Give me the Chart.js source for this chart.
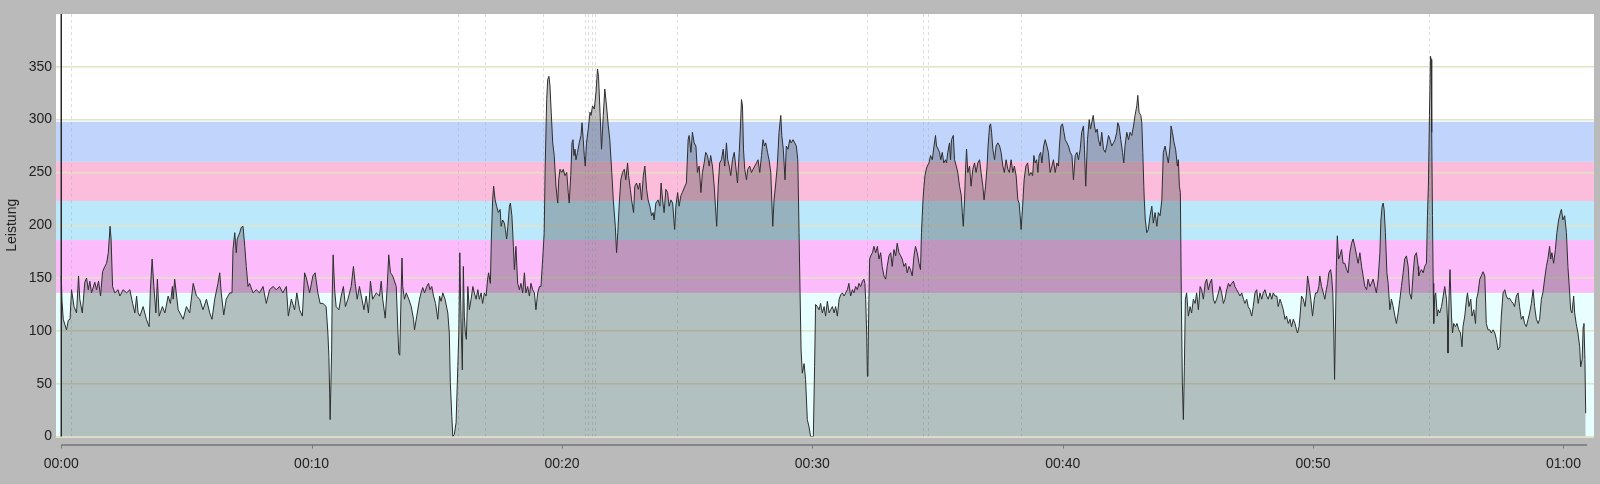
<!DOCTYPE html>
<html lang="de">
<head>
<meta charset="utf-8">
<title>Leistung</title>
<style>
  html, body { margin: 0; padding: 0; background: #bababa; }
  canvas { display: block; }
</style>
</head>
<body>
<canvas id="power-chart" width="1600" height="484"></canvas>
<script src="https://cdn.jsdelivr.net/npm/chart.js@4.4.1/dist/chart.umd.min.js"></script>
<script>
'use strict';

// RIDE DATA: ELAPSED TIME IN MINUTES AND POWER IN WATTS
const minutes = [
  0.00, 0.03, 0.08, 0.21, 0.28, 0.35, 0.41, 0.51, 0.61, 0.69,
  0.74, 0.84, 0.94, 1.01, 1.08, 1.14, 1.21, 1.34, 1.41, 1.49,
  1.57, 1.65, 1.74, 1.81, 1.88, 1.95, 1.99, 2.05, 2.14, 2.27,
  2.34, 2.47, 2.61, 2.74, 2.85, 2.94, 3.01, 3.07, 3.14, 3.27,
  3.40, 3.51, 3.56, 3.63, 3.70, 3.78, 3.84, 3.91, 4.04, 4.14,
  4.27, 4.36, 4.44, 4.47, 4.53, 4.67, 4.87, 5.00, 5.13, 5.27,
  5.40,
  5.53, 5.66, 5.80, 5.93, 6.02, 6.13, 6.26, 6.33, 6.39, 6.49,
  6.59, 6.73, 6.82, 6.86, 6.93, 6.99, 7.03, 7.13, 7.19, 7.26,
  7.33, 7.39, 7.46, 7.52, 7.66, 7.79, 7.92, 8.06, 8.19, 8.32,
  8.46, 8.59, 8.72, 8.85, 8.99, 9.07, 9.19, 9.32, 9.41, 9.52,
  9.63, 9.72, 9.79, 9.92, 10.05, 10.14, 10.25, 10.34, 10.45, 10.58,
  10.65, 10.69, 10.72, 10.74, 10.80, 10.82, 10.86, 10.92, 10.98, 11.09,
  11.18, 11.27, 11.35, 11.45, 11.58, 11.67, 11.74, 11.82, 11.91, 12.01,
  12.09, 12.18, 12.27, 12.35, 12.44, 12.58, 12.71, 12.78, 12.84, 12.94,
  13.02, 13.08, 13.15, 13.24, 13.38, 13.48, 13.52, 13.57, 13.61,
  13.64, 13.71, 13.78, 13.88, 13.98, 14.07, 14.11, 14.20, 14.31, 14.37,
  14.44, 14.51, 14.60, 14.67, 14.73, 14.80, 14.87, 14.95, 15.04, 15.11,
  15.17, 15.24, 15.33, 15.44, 15.50, 15.54, 15.60, 15.64, 15.70, 15.77,
  15.84, 15.88, 15.92, 15.94, 15.98, 16.02, 16.06, 16.10, 16.14, 16.18,
  16.24, 16.30, 16.37, 16.44, 16.50, 16.57, 16.64, 16.70, 16.77, 16.83,
  16.90, 16.97, 17.03, 17.07, 17.14, 17.18, 17.23, 17.27, 17.33, 17.39,
  17.46, 17.53, 17.57, 17.63, 17.70, 17.74, 17.79, 17.84, 17.90, 17.94,
  18.00, 18.06, 18.10, 18.16, 18.23, 18.30, 18.36, 18.43, 18.50, 18.56,
  18.63, 18.70, 18.76, 18.83, 18.90, 18.96, 19.03, 19.10, 19.16, 19.23,
  19.29, 19.33, 19.39, 19.43, 19.48, 19.52, 19.57, 19.63, 19.69, 19.76,
  19.83, 19.87, 19.92, 19.99, 20.05, 20.12, 20.19, 20.25, 20.29, 20.35,
  20.40, 20.44, 20.48, 20.52, 20.56, 20.62, 20.69, 20.76, 20.80, 20.85,
  20.89, 20.93, 20.98, 21.05, 21.12, 21.16, 21.22, 21.29, 21.36, 21.42,
  21.46, 21.52, 21.58, 21.65, 21.71, 21.78, 21.85, 21.91, 21.99, 22.05,
  22.13, 22.18, 22.23, 22.29,
  22.35, 22.42, 22.49, 22.55, 22.62, 22.66, 22.73, 22.78, 22.86, 22.91,
  22.98, 23.05, 23.11, 23.18, 23.25, 23.31, 23.38, 23.44, 23.51, 23.58,
  23.64, 23.68, 23.75, 23.84, 23.91, 23.96, 24.02, 24.08, 24.15, 24.22,
  24.28, 24.35, 24.42, 24.50, 24.55, 24.62, 24.68, 24.75, 24.81, 24.91,
  24.97, 25.04, 25.08, 25.15, 25.21, 25.28, 25.35, 25.41, 25.48, 25.55,
  25.61, 25.68, 25.74, 25.81, 25.88, 25.94, 26.01, 26.08, 26.13, 26.18,
  26.24, 26.30, 26.37, 26.44, 26.50, 26.57, 26.62, 26.68, 26.74, 26.81,
  26.88, 26.94, 27.01, 27.08, 27.13, 27.17, 27.21, 27.25, 27.30, 27.37,
  27.42, 27.50, 27.57, 27.63, 27.70, 27.77, 27.83, 27.90, 27.97, 28.03,
  28.09, 28.14, 28.21, 28.27, 28.34, 28.38, 28.42, 28.47, 28.54, 28.60,
  28.67, 28.74, 28.78, 28.84, 28.91, 28.96, 29.03, 29.10, 29.16, 29.23,
  29.30, 29.36, 29.42, 29.47, 29.51, 29.55, 29.60, 29.67, 29.73, 29.80,
  29.87, 29.93, 30.04, 30.09,
  30.13, 30.20, 30.27, 30.33, 30.40, 30.47, 30.53, 30.60, 30.67, 30.73,
  30.80, 30.87, 30.93, 31.00, 31.07, 31.13, 31.20, 31.27, 31.33, 31.40,
  31.46, 31.53, 31.60, 31.66, 31.73, 31.80, 31.86, 31.93, 32.00, 32.06,
  32.10, 32.13, 32.17, 32.20, 32.22, 32.26, 32.29, 32.33, 32.40, 32.46,
  32.53, 32.60, 32.66, 32.73, 32.79, 32.86, 32.93, 32.99, 33.06, 33.13,
  33.19, 33.26, 33.33, 33.39, 33.46, 33.53, 33.59, 33.66, 33.73, 33.79,
  33.86, 33.92, 33.99, 34.06, 34.12, 34.19, 34.26, 34.32, 34.36, 34.42,
  34.46, 34.50, 34.55, 34.59, 34.66, 34.72, 34.79, 34.86, 34.92, 34.96,
  35.03, 35.08, 35.13, 35.19, 35.25, 35.32, 35.36, 35.41, 35.48, 35.52,
  35.56, 35.63, 35.68, 35.75, 35.81, 35.88, 35.95, 35.99, 36.03, 36.08,
  36.12, 36.16, 36.21, 36.28, 36.34, 36.41, 36.48, 36.54, 36.61, 36.68,
  36.74, 36.81, 36.86, 36.92, 36.98, 37.02, 37.08, 37.12, 37.16, 37.21,
  37.28, 37.34, 37.41, 37.48, 37.54, 37.61, 37.67, 37.74, 37.81, 37.87,
  37.94, 38.01, 38.07, 38.14, 38.21,
  38.26, 38.30, 38.34, 38.40, 38.46, 38.53, 38.60, 38.66, 38.73, 38.80,
  38.85, 38.90, 38.96, 39.01, 39.06, 39.12, 39.17, 39.24, 39.30, 39.37,
  39.43, 39.50, 39.57, 39.63, 39.70, 39.77, 39.83, 39.87, 39.93, 39.99,
  40.05, 40.10, 40.17, 40.23, 40.30, 40.37, 40.43, 40.50, 40.57, 40.63,
  40.70, 40.76, 40.83, 40.87, 40.92, 40.99, 41.06, 41.11, 41.16, 41.22,
  41.27, 41.32, 41.38, 41.43, 41.50, 41.56, 41.63, 41.70, 41.76, 41.83,
  41.89, 41.96, 42.03, 42.09, 42.16, 42.20, 42.25, 42.32, 42.39, 42.44,
  42.49, 42.56, 42.63, 42.69, 42.76, 42.83, 42.89, 42.96, 43.00, 43.05,
  43.12, 43.16, 43.20, 43.24, 43.26, 43.30, 43.36, 43.42, 43.49, 43.56,
  43.62, 43.69, 43.76, 43.82, 43.89, 43.96, 44.02, 44.09, 44.16, 44.22,
  44.29, 44.33, 44.38, 44.45, 44.51, 44.58, 44.62, 44.66, 44.70, 44.74,
  44.78, 44.82, 44.86, 44.90, 44.95, 45.02, 45.09, 45.15, 45.22, 45.29,
  45.35, 45.42, 45.49, 45.55, 45.62, 45.69, 45.75, 45.82, 45.88, 45.95,
  46.02, 46.08, 46.15,
  46.22, 46.28, 46.35, 46.42, 46.48, 46.55, 46.62, 46.68, 46.75, 46.82,
  46.88, 46.95, 47.02, 47.08, 47.15, 47.22, 47.28, 47.35, 47.41, 47.48,
  47.55, 47.61, 47.68, 47.75, 47.81, 47.88, 47.95, 48.01, 48.08, 48.15,
  48.21, 48.28, 48.35, 48.41, 48.48, 48.55, 48.61, 48.68, 48.74, 48.81,
  48.88, 48.94, 49.01, 49.08, 49.14, 49.21, 49.28, 49.34, 49.38, 49.44,
  49.48, 49.54, 49.61, 49.68, 49.74, 49.78, 49.83, 49.91, 49.98, 50.05,
  50.10, 50.17, 50.23, 50.27, 50.34, 50.41, 50.47, 50.53, 50.58, 50.63,
  50.70, 50.74, 50.79, 50.83, 50.86, 50.89, 50.93, 50.97, 51.02, 51.07,
  51.14, 51.20, 51.27, 51.34, 51.40, 51.47, 51.54, 51.60, 51.67, 51.74,
  51.80, 51.87, 51.94, 52.00, 52.07, 52.14, 52.20, 52.27, 52.33, 52.40,
  52.47, 52.53, 52.60, 52.67, 52.71, 52.76, 52.80, 52.84, 52.89, 52.95,
  53.00, 53.07, 53.13, 53.20, 53.27, 53.33, 53.40, 53.47, 53.53, 53.60,
  53.66, 53.73, 53.80, 53.86, 53.93, 54.00, 54.06, 54.13, 54.20,
  54.22, 54.26, 54.33, 54.40, 54.46, 54.53, 54.57, 54.61, 54.65, 54.69,
  54.72, 54.74, 54.77, 54.80, 54.82, 54.86, 54.90, 54.96, 55.00, 55.06,
  55.13, 55.20, 55.26, 55.33, 55.37, 55.39, 55.43, 55.47, 55.53, 55.57,
  55.62, 55.69, 55.75, 55.82, 55.89, 55.95, 55.99, 56.06, 56.13, 56.17,
  56.23, 56.30, 56.35, 56.42, 56.49, 56.53, 56.59, 56.66, 56.72, 56.79,
  56.86, 56.92, 56.99, 57.06, 57.12, 57.19, 57.26, 57.32, 57.39, 57.46,
  57.52, 57.59, 57.66, 57.72, 57.79, 57.85, 57.92, 57.99, 58.05, 58.12,
  58.19, 58.25, 58.32, 58.39, 58.45, 58.52, 58.59, 58.65, 58.72, 58.79,
  58.85, 58.92, 58.99, 59.05, 59.12, 59.18, 59.25, 59.32, 59.38, 59.45,
  59.49, 59.54, 59.61, 59.68, 59.74, 59.81, 59.88, 59.92, 59.98, 60.05,
  60.12, 60.18, 60.25, 60.29, 60.34, 60.41, 60.45, 60.51, 60.58, 60.65,
  60.69, 60.75, 60.79, 60.82, 60.86, 60.89
];

const watts = [
  152, 128, 111, 101, 110, 111, 139, 123, 117, 152,
  130, 117, 146, 150, 139, 147, 136, 146, 139, 147,
  133, 156, 161, 164, 174, 199, 187, 142, 136, 139,
  133, 139, 136, 139, 126, 117, 133, 117, 114, 123,
  111, 104, 139, 168, 142, 117, 149, 114, 123, 117,
  133, 126, 142, 130, 149, 120, 111, 123, 117, 145,
  133,
  130, 120, 130, 117, 111, 130, 145, 155, 136, 115,
  130, 136, 136, 177, 193, 174, 187, 193, 198, 199,
  180, 161, 142, 145, 136, 139, 136, 142, 126, 139,
  142, 139, 142, 136, 142, 114, 130, 120, 136, 120,
  114, 155, 150, 136, 152, 155, 136, 126, 126, 123,
  98, 76, 41, 16, 82, 130, 172, 139, 123, 120,
  133, 142, 123, 130, 142, 161, 145, 130, 142, 130,
  120, 133, 117, 147, 130, 136, 133, 147, 130, 112,
  142, 172, 155, 152, 142, 79, 77, 130, 169,
  142, 130, 136, 130, 123, 111, 101, 114, 130, 136,
  141, 136, 142, 145, 139, 142, 133, 126, 111, 133,
  128, 136, 130, 117, 98, 51, 19, 0, 2, 13,
  66, 98, 174, 145, 98, 63, 161, 114, 98, 92,
  142, 120, 130, 142, 136, 130, 139, 130, 136, 126,
  136, 133, 149, 155, 145, 187, 224, 237, 224, 218,
  212, 215, 199, 205, 202, 196, 187, 199, 218, 221,
  209, 180, 158, 180, 145, 139, 145, 136, 155, 136,
  142, 133, 145, 139, 136, 120, 136, 142, 142, 168,
  193, 256, 319, 338, 341, 332, 307, 278, 266, 237,
  221, 243, 253, 250, 253, 247, 250, 231, 221, 247,
  278, 281, 266, 272, 262, 269, 278, 285, 297, 281,
  266, 256, 278, 291, 307, 304, 313, 310, 326, 348,
  341, 307, 272, 304, 329, 313, 294, 281, 250, 224,
  199, 174, 193, 221,
  243, 250, 253, 243, 259, 247, 234, 224, 212, 237,
  240, 234, 240, 224, 247, 256, 234, 224, 218, 209,
  212, 205, 221, 224, 218, 240, 224, 212, 234, 231,
  218, 224, 221, 196, 218, 231, 218, 228, 231, 237,
  240, 281, 285, 269, 288, 278, 275, 250, 256, 231,
  250, 259, 269, 266, 256, 266, 256, 237, 218, 199,
  237, 259, 262, 272, 256, 278, 262, 256, 247, 262,
  269, 256, 240, 269, 294, 319, 313, 272, 253, 243,
  253, 256, 250, 253, 256, 259, 262, 250, 266, 281,
  275, 278, 269, 262, 250, 224, 199, 224, 240, 256,
  288, 304, 285, 272, 243, 275, 272, 281, 278, 281,
  278, 275, 262, 193, 136, 82, 60, 69, 54, 16,
  9, 0, 0, 66,
  125, 123, 120, 126, 117, 123, 114, 128, 117, 120,
  123, 117, 123, 114, 130, 134, 136, 133, 136, 139,
  145, 133, 139, 136, 142, 139, 145, 142, 147, 149,
  145, 130, 98, 57, 66, 130, 168, 171, 174, 180,
  174, 180, 168, 174, 161, 152, 149, 161, 171, 174,
  161, 177, 171, 183, 174, 171, 168, 161, 164, 155,
  161, 158, 152, 171, 180, 174, 164, 158, 193, 224,
  237, 247, 253, 256, 259, 266, 262, 275, 285, 275,
  272, 269, 262, 269, 259, 262, 259, 269, 278, 262,
  281, 285, 262, 256, 250, 237, 228, 212, 199, 224,
  253, 272, 250, 256, 237, 253, 259, 250, 259, 262,
  250, 237, 224, 237, 256, 275, 294, 296, 288, 272,
  262, 275, 278, 275, 269, 256, 250, 262, 253, 250,
  262, 250, 256, 247, 224,
  221, 209, 196, 218, 243, 256, 259, 247, 250, 247,
  266, 259, 262, 250, 266, 269, 259, 275, 281, 275,
  269, 250, 256, 262, 250, 259, 256, 275, 294, 296,
  288, 281, 278, 275, 269, 266, 243, 266, 269, 262,
  272, 288, 294, 272, 237, 281, 300, 291, 297, 304,
  294, 288, 291, 281, 275, 288, 272, 269, 275, 285,
  281, 275, 278, 281, 288, 297, 294, 281, 269, 259,
  275, 288, 281, 288, 285, 294, 304, 313, 323, 307,
  304, 297, 269, 237, 224, 205, 193, 196, 209, 218,
  202, 212, 199, 212, 209, 224, 269, 275, 266, 259,
  275, 294, 288, 278, 272, 256, 262, 237, 231, 130,
  51, 16, 66, 130, 136, 114, 123, 117, 130, 126,
  136, 120, 142, 139, 130, 145, 149, 139, 145, 149,
  130, 126, 130,
  136, 142, 136, 126, 130, 139, 145, 142, 145, 147,
  142, 139, 136, 133, 136, 130, 126, 130, 123, 120,
  114, 123, 136, 139, 126, 136, 130, 136, 139, 133,
  130, 136, 130, 136, 133, 133, 123, 130, 126, 120,
  111, 114, 107, 111, 104, 111, 107, 101, 98, 104,
  114, 133, 130, 123, 136, 152, 145, 130, 114, 130,
  136, 136, 142, 152, 142, 136, 130, 139, 145, 155,
  158, 152, 136, 98, 54, 98, 161, 190, 168, 171,
  177, 164, 164, 158, 155, 174, 183, 187, 180, 171,
  164, 174, 161, 152, 142, 139, 149, 142, 145, 149,
  142, 136, 149, 174, 205, 218, 221, 215, 193, 155,
  145, 120, 130, 123, 114, 107, 117, 130, 142, 155,
  168, 171, 161, 136, 130, 155, 171, 174, 161,
  152, 155, 158, 155, 161, 164, 209, 240, 304, 360,
  357, 288, 209, 145, 107, 133, 136, 114, 120, 117,
  123, 133, 142, 130, 111, 79, 130, 158, 114, 98,
  107, 104, 107, 101, 98, 85, 104, 114, 130, 136,
  123, 130, 114, 120, 107, 130, 136, 149, 152, 156,
  152, 107, 101, 101, 98, 101, 98, 92, 82, 85,
  114, 136, 139, 133, 130, 131, 128, 126, 123, 133,
  136, 123, 111, 114, 107, 104, 111, 117, 126, 139,
  123, 111, 107, 111, 130, 136, 149, 161, 168, 180,
  168, 174, 164, 177, 193, 205, 212, 215, 205, 209,
  193, 161, 136, 120, 117, 133, 117, 107, 98, 85,
  66, 73, 104, 107, 73, 22
];

// POWER ZONES (WATTS) AND THEIR BAND COLOURS
const zoneBounds = [0, 136, 186, 223, 260, 298];
const zoneColors = ['#e8ffff', '#fcbcfc', '#bce8fc', '#fcbcdc', '#c0d4fc'];

// LAP MARKERS (MINUTES)
const lapMarks = [0.4, 15.85, 16.93, 19.24, 20.92, 21.05, 21.2, 21.33, 24.6, 32.19, 34.44, 34.62, 38.33, 54.63];

// AXIS TICKS
const xTicks = [0, 10, 20, 30, 40, 50, 60];
const yTicks = [0, 50, 100, 150, 200, 250, 300, 350];

const FONT = '"Liberation Sans", Arial, Helvetica, sans-serif';

function formatClock(value) {
  const h = Math.floor(value / 60);
  const m = Math.round(value % 60);
  return String(h).padStart(2, '0') + ':' + String(m).padStart(2, '0');
}

// PLUGIN FOR BACKGROUND, ZONE BANDS, LAP LINES AND THE TIME AXIS LINE
const zonePlugin = {
  id: 'zones',
  beforeDraw(chart) {
    const { ctx, chartArea: a, scales } = chart;
    const y = scales.y;
    ctx.save();
    ctx.fillStyle = '#bababa';
    ctx.fillRect(0, 0, chart.width, chart.height);
    ctx.fillStyle = '#ffffff';
    ctx.fillRect(a.left, a.top, a.right - a.left, a.bottom - a.top + 1);
    for (let i = 0; i < zoneColors.length; i++) {
      const top = y.getPixelForValue(zoneBounds[i + 1]);
      const bottom = y.getPixelForValue(zoneBounds[i]);
      ctx.fillStyle = zoneColors[i];
      ctx.fillRect(a.left, top, a.right - a.left, bottom - top);
    }
    ctx.restore();
  },
  beforeDatasetsDraw(chart) {
    const { ctx, chartArea: a, scales } = chart;
    ctx.save();
    ctx.strokeStyle = 'rgba(170,170,170,0.4)';
    ctx.lineWidth = 1;
    ctx.setLineDash([3, 3]);
    lapMarks.forEach((m) => {
      const px = Math.round(scales.x.getPixelForValue(m)) + 0.5;
      ctx.beginPath();
      ctx.moveTo(px, a.top);
      ctx.lineTo(px, a.bottom);
      ctx.stroke();
    });
    ctx.restore();
  },
  afterDatasetsDraw(chart) {
    const { ctx, chartArea: a, scales } = chart;
    const x = scales.x;
    ctx.save();
    // START LINE
    const x0 = x.getPixelForValue(0);
    ctx.strokeStyle = '#2a2a2a';
    ctx.lineWidth = 1.5;
    ctx.beginPath();
    ctx.moveTo(x0, a.top);
    ctx.lineTo(x0, a.bottom);
    ctx.stroke();
    // TIME AXIS LINE AND TICK MARKS
    const axisY = a.bottom + 8.5;
    ctx.strokeStyle = '#858585';
    ctx.lineWidth = 2;
    ctx.beginPath();
    ctx.moveTo(x0, axisY);
    ctx.lineTo(x.getPixelForValue(minutes[minutes.length - 1] + 0.05), axisY);
    ctx.stroke();
    ctx.lineWidth = 1;
    ctx.strokeStyle = '#777777';
    xTicks.forEach((t) => {
      const px = Math.round(x.getPixelForValue(t)) + 0.5;
      ctx.beginPath();
      ctx.moveTo(px, axisY);
      ctx.lineTo(px, axisY + 3.5);
      ctx.stroke();
    });
    ctx.restore();
  }
};

const points = minutes.map((m, i) => ({ x: m, y: watts[i] }));

const powerChart = new Chart(document.querySelector('#power-chart'), {
  type: 'line',
  data: {
    datasets: [
      {
        label: 'Leistung',
        data: points,
        borderColor: '#2e2e2e',
        borderWidth: 1,
        backgroundColor: 'rgba(90,90,90,0.38)',
        fill: 'origin',
        pointRadius: 0,
        tension: 0
      }
    ]
  },
  options: {
    responsive: false,
    animation: false,
    events: [],
    layout: { padding: { top: 14, right: 4, left: 0, bottom: 0 } },
    plugins: { legend: { display: false }, tooltip: { enabled: false } },
    scales: {
      x: {
        type: 'linear',
        min: -0.21,
        max: 61.22,
        afterBuildTicks: (s) => { s.ticks = xTicks.map((v) => ({ value: v })); },
        afterFit: (s) => { s.height = 47.5; },
        grid: { display: false, drawTicks: false },
        border: { display: false },
        ticks: {
          padding: 19,
          color: '#222222',
          maxRotation: 0,
          autoSkip: false,
          font: { family: FONT, size: 14 },
          callback: (v) => formatClock(v)
        }
      },
      y: {
        min: 0,
        max: 400,
        afterBuildTicks: (s) => { s.ticks = yTicks.map((v) => ({ value: v })); },
        afterFit: (s) => { s.width = 56; },
        grid: { color: '#e2e2c4', lineWidth: 1.5, drawTicks: false },
        border: { display: false },
        ticks: { padding: 4, color: '#222222', font: { family: FONT, size: 14 } },
        title: {
          display: true,
          text: 'Leistung',
          color: '#222222',
          font: { family: FONT, size: 14 },
          padding: { top: 4, bottom: 0 }
        }
      }
    }
  },
  plugins: [zonePlugin]
});
</script>
</body>
</html>
